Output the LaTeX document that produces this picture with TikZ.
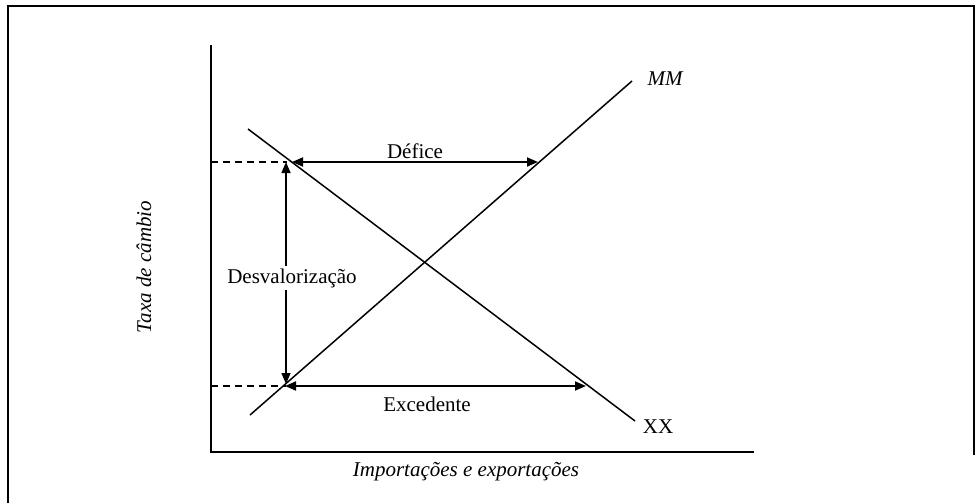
\documentclass[tikz,border=0pt]{standalone}
\usepackage{fontspec}
\setmainfont{Liberation Serif}
\usetikzlibrary{arrows.meta}
\begin{document}
\begin{tikzpicture}[x=1pt,y=-1pt,
  lbl/.style={font=\fontsize{21}{24}\selectfont, inner sep=1pt},
  ilbl/.style={lbl, font=\fontsize{21}{24}\selectfont\itshape},
  curve/.style={line width=1.5pt},
  axisline/.style={line width=2pt},
  dim/.style={line width=1.8pt, {Triangle[length=11pt,width=9pt]}-{Triangle[length=11pt,width=9pt]}},
  guide/.style={line width=1.3pt, dash pattern=on 7pt off 5pt}]
\useasboundingbox (0,0) rectangle (979,503);
% frame
\draw[line width=2pt] (7.5,503) -- (7.5,6.5) -- (974,6.5) -- (974,455);
% axes
\coordinate (ytop) at (211,45);
\coordinate (orig) at (211,452);
\coordinate (xend) at (754,452);
\draw[axisline] (ytop) -- (orig) -- (xend);
% curves
\coordinate (xxs) at (248,129);
\coordinate (xxe) at (635,421);
\coordinate (mms) at (250,415);
\coordinate (mme) at (632,81);
\draw[curve] (xxs) -- (xxe);
\draw[curve] (mms) -- (mme);
% levels
\coordinate (yhi) at (211,162);
\coordinate (ylo) at (211,386);
\coordinate (phi) at (287,162);
\coordinate (plo) at (286,386);
\coordinate (dl) at (292,162);
\coordinate (dr) at (538,162);
\coordinate (el) at (285,386);
\coordinate (er) at (586,386);
\coordinate (vt) at (286,162);
\coordinate (vb) at (286,384);
\draw[guide] (yhi) -- (phi);
\draw[guide] (ylo) -- (plo);
\draw[dim] (dl) -- (dr);
\draw[dim] (el) -- (er);
\draw[dim, line width=1.5pt] (vt) -- (vb);
% labels
\node[lbl] (defice) at (415,151) {Défice};
\node[lbl] (exced) at (427,404) {Excedente};
\node[lbl, fill=white, inner sep=2pt] (desval) at (292,278) {Desvalorização};
\node[ilbl] (mm) at (665,79) {MM};
\node[lbl] (xx) at (658,427) {XX};
\node[ilbl, rotate=90] (taxa) at (144,267) {Taxa de câmbio};
\node[ilbl] (impexp) at (466,472) {Importações e exportações};
\end{tikzpicture}
\end{document}
